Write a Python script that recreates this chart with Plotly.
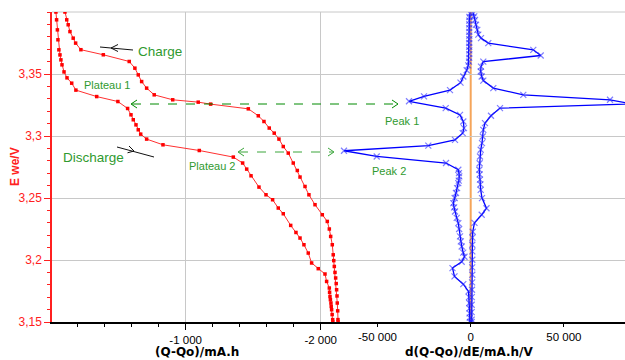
import plotly.graph_objects as go

# ---------------- data ----------------
# Red curves: E (V) vs (Q-Qo) (mA.h)
V_discharge = [3.400, 3.3937, 3.3856, 3.3776, 3.3695, 3.3654, 3.3614, 3.3574, 3.3517, 3.3469,
               3.3426, 3.3370, 3.3318, 3.3278, 3.3222, 3.3171, 3.3131, 3.3090, 3.3050, 3.3015,
               3.2975, 3.2929, 3.2883, 3.2830, 3.2782, 3.2733, 3.2679, 3.2588, 3.2526, 3.2486,
               3.2419, 3.2373, 3.2279, 3.2222, 3.2177, 3.2123, 3.2056, 3.1976, 3.1930, 3.1887,
               3.1827, 3.1774, 3.1740, 3.1706, 3.1680, 3.1653, 3.1626, 3.1599, 3.1560, 3.1519, 3.150]
Q_discharge = [-39, -44, -50, -54, -61, -69, -76, -84, -99, -121,
               -156, -187, -341, -498, -570, -595, -612, -632, -649, -667,
               -711, -832, -1101, -1353, -1422, -1452, -1484, -1543, -1595, -1644,
               -1686, -1723, -1778, -1817, -1847, -1876, -1908, -1933, -1982, -2032,
               -2044, -2064, -2066, -2069, -2072, -2076, -2078, -2081, -2085, -2089, -2090]

V_charge = [3.400, 3.3937, 3.3897, 3.3842, 3.3789, 3.3749, 3.3696, 3.3655, 3.3601, 3.3547,
            3.3493, 3.3439, 3.3386, 3.3332, 3.3292, 3.3273, 3.3257, 3.3219, 3.3163, 3.3117,
            3.3064, 3.3023, 3.2975, 3.2915, 3.2862, 3.2782, 3.2722, 3.2669, 3.2593, 3.2526,
            3.2446, 3.2365, 3.2311, 3.2250, 3.2190, 3.2123, 3.2042, 3.1995, 3.1948, 3.1900,
            3.1855, 3.1810, 3.1760, 3.1710, 3.1653, 3.1590, 3.1519, 3.150]
Q_charge = [-106, -119, -130, -143, -167, -185, -224, -390, -582, -624,
            -649, -674, -711, -767, -904, -1093, -1185, -1464, -1538, -1580,
            -1619, -1656, -1691, -1723, -1760, -1797, -1827, -1847, -1884, -1913,
            -1958, -2012, -2049, -2064, -2074, -2086, -2093, -2097, -2101, -2106,
            -2111, -2115, -2118, -2121, -2123, -2126, -2128, -2129]

# Blue curves: E (V) vs d(Q-Qo)/dE (mA.h/V)
V_dqde_charge = [3.3991, 3.3965, 3.3937, 3.3897, 3.3856, 3.3817, 3.3789, 3.3749, 3.3695, 3.3649,
                 3.3600, 3.3560, 3.3520, 3.3480, 3.3447, 3.3386, 3.3332, 3.3292, 3.3259, 3.3225,
                 3.3163, 3.3104, 3.3050, 3.2996, 3.2943, 3.2889, 3.2835, 3.278, 3.2728, 3.269,
                 3.2648, 3.261, 3.2566, 3.2499, 3.2417, 3.2365, 3.2300, 3.2228, 3.218, 3.2123,
                 3.207, 3.2002, 3.194, 3.1881, 3.182, 3.1760, 3.170, 3.1639, 3.158, 3.1519, 3.150]
dQ_charge = [1395, 1900, 2307, 2843, 3541, 4077, 5526, 9442, 33585, 37555,
             6760, 5526, 5365, 5902, 6760, 12125, 28220, 74735, 86000, 15720,
             10891, 7672, 6760, 6438, 6062, 5365, 4990, 4800, 4614, 4800,
             4990, 5200, 5365, 6062, 8477, 5902, 2039, 1073, 900, 858,
             858, 858, 800, 858, 750, 697, 600, 537, 537, 537, 537]

V_dqde_discharge = [3.399, 3.396, 3.393, 3.390, 3.387, 3.384, 3.381, 3.378, 3.375, 3.372,
                    3.369, 3.366, 3.363, 3.360, 3.357, 3.353, 3.348, 3.343, 3.337, 3.332,
                    3.328, 3.3225, 3.317, 3.3117, 3.3064, 3.3023, 3.2969, 3.2923, 3.2881, 3.2835,
                    3.2782, 3.2728, 3.270, 3.2674, 3.264, 3.262, 3.258, 3.254, 3.250, 3.2459,
                    3.2425, 3.2391, 3.234, 3.2298, 3.225, 3.219, 3.215, 3.2109, 3.206, 3.2026,
                    3.1986, 3.1935, 3.1868, 3.1805, 3.1747, 3.170, 3.1653, 3.161, 3.157, 3.1535, 3.150]
dQ_discharge = [-400, -700, -750, -750, -800, -800, -750, -750, -800, -800,
                -750, -750, -800, -900, -1288, -2146, -3970, -5472, -11106, -25055,
                -33100, -13413, -5741, -3970, -3595, -4292, -8423, -22748, -67975, -50431,
                -13252, -6653, -6300, -6116, -6400, -6653, -7300, -7887, -8600, -9335,
                -8900, -8423, -7500, -6653, -6200, -5741, -5300, -4829, -4000, -3326,
                -4829, -9764, -8692, -3970, -1180, -900, -751, -700, -600, -500, -400]

y_ticks = [3.15, 3.2, 3.25, 3.3, 3.35]
y_ticklabels = ["3,15", "3,2", "3,25", "3,3", "3,35"]
q_ticks = [-1000, -2000]
q_ticklabels = ["-1 000", "-2 000"]
dq_ticks = [-50000, 0, 50000]
dq_ticklabels = ["-50 000", "0", "50 000"]

# ---------------- layout helpers ----------------
W, H = 625, 360
ML, MR, MT, MB = 52, 0, 12, 38
PW, PH = W - ML - MR, H - MT - MB


def px(x):
    return (x - ML) / PW


def py(y):
    return (H - MB - y) / PH


fig = go.Figure()

fig.add_trace(go.Scatter(x=Q_discharge, y=V_discharge, mode="lines+markers", xaxis="x", yaxis="y",
                         line=dict(color="#ff3030", width=1),
                         marker=dict(symbol="square", size=3.5, color="#ff0000"), showlegend=False))
fig.add_trace(go.Scatter(x=Q_charge, y=V_charge, mode="lines+markers", xaxis="x", yaxis="y",
                         line=dict(color="#ff3030", width=1),
                         marker=dict(symbol="square", size=3.5, color="#ff0000"), showlegend=False))

blue_marker = dict(symbol="x-thin", size=6, color="rgba(40,40,255,0.6)",
                   line=dict(width=1.2, color="rgba(40,40,255,0.6)"))
fig.add_trace(go.Scatter(x=dQ_charge, y=V_dqde_charge, mode="lines+markers", xaxis="x2", yaxis="y",
                         line=dict(color="#0000ff", width=1.3), marker=blue_marker, showlegend=False))
fig.add_trace(go.Scatter(x=dQ_discharge, y=V_dqde_discharge, mode="lines+markers", xaxis="x2", yaxis="y",
                         line=dict(color="#0000ff", width=1.3), marker=blue_marker, showlegend=False))

tickfont = dict(family="Liberation Sans, Arial, sans-serif", size=11.5, color="black")

shapes = []
# top grid line (3.40)
shapes.append(dict(type="line", xref="paper", yref="paper", x0=0, x1=1, y0=1, y1=1,
                   line=dict(color="#c8c8c8", width=1), layer="below"))
# orange zero line of the derivative axis
shapes.append(dict(type="line", xref="x2", yref="paper", x0=0, x1=0, y0=0, y1=1,
                   line=dict(color="#f5a55a", width=2), layer="between"))


def seg(x0, y0, x1, y1, color, width=1, dash="solid"):
    return dict(type="line", xref="paper", yref="paper", x0=px(x0), y0=py(y0), x1=px(x1), y1=py(y1),
                line=dict(color=color, width=width, dash=dash), layer="above")


g1 = "#008a00"
g2 = "#3aa53a"
# Plateau 1 <-> Peak 1
shapes.append(seg(132, 104, 397, 104, g1, 1, "dash"))
shapes += [seg(137, 100, 131, 104, g1), seg(131, 104, 137, 108, g1),
           seg(392, 100, 398, 104, g1), seg(398, 104, 392, 108, g1)]
# Plateau 2 <-> Peak 2
shapes.append(seg(239, 152, 333, 152, g2, 1, "dash"))
shapes += [seg(244, 148, 238, 152, g2), seg(238, 152, 244, 156, g2),
           seg(328, 148, 334, 152, g2), seg(334, 152, 328, 156, g2)]
# Charge arrow (black)
shapes.append(seg(100, 47, 133, 50, "#111111", 1))
shapes += [seg(118, 44.5, 111, 48, "#111111"), seg(111, 48, 118, 51.5, "#111111")]
# Discharge arrow (black)
shapes.append(seg(117, 147, 154, 157, "#111111", 1))
shapes += [seg(127.5, 152.8, 134, 151, "#111111"), seg(134, 151, 129, 146, "#111111")]

green = "#2f9a2f"
annotations = []


def txt(text, x, y, size, color=green, family="Liberation Sans, Arial, sans-serif", angle=0):
    annotations.append(dict(text=text, xref="paper", yref="paper", x=px(x), y=py(y),
                            xanchor="center", yanchor="middle", showarrow=False, textangle=angle,
                            font=dict(family=family, size=size, color=color)))


txt("Charge", 160, 51, 13.5)
txt("Discharge", 93, 157, 13.5)
txt("Plateau 1", 107, 85, 11)
txt("Plateau 2", 212, 166, 11)
txt("Peak 1", 402, 121, 11)
txt("Peak 2", 389, 171, 11)
txt("<b>(Q-Qo)/mA.h</b>", 197, 352, 12, "black", "DejaVu Sans, sans-serif")
txt("<b>d(Q-Qo)/dE/mA.h/V</b>", 469, 352, 12, "black", "DejaVu Sans, sans-serif")
txt("<b>E we/V</b>", 15, 167, 12, "#ff2020", angle=-90)

fig.update_layout(
    width=W, height=H,
    margin=dict(l=ML, r=MR, t=MT, b=MB, pad=0),
    paper_bgcolor="white", plot_bgcolor="white",
    showlegend=False,
    xaxis=dict(range=[-10, -4254], tickmode="array", tickvals=q_ticks, ticktext=q_ticklabels,
               showgrid=True, gridcolor="#c8c8c8", gridwidth=1, zeroline=False,
               showline=True, linecolor="black", linewidth=1.5,
               ticks="outside", ticklen=6, tickcolor="black", tickfont=tickfont,
               minor=dict(tickmode="array",
                          tickvals=[-200, -400, -600, -800, -1200, -1400, -1600, -1800],
                          ticks="outside", ticklen=3, tickcolor="black", showgrid=False),
               anchor="y"),
    xaxis2=dict(range=[-224634, 82782], overlaying="x", side="bottom", anchor="y",
                tickmode="array", tickvals=dq_ticks, ticktext=dq_ticklabels,
                showgrid=False, zeroline=False, showline=False,
                ticks="outside", ticklen=4, tickcolor="black", tickfont=tickfont),
    yaxis=dict(range=[3.15, 3.40], tickmode="array", tickvals=y_ticks, ticktext=y_ticklabels,
               showgrid=True, gridcolor="#c8c8c8", gridwidth=1, zeroline=False,
               showline=True, linecolor="#ff2020", linewidth=1.5,
               ticks="outside", ticklen=6, tickcolor="#ff2020",
               tickfont=dict(family="Liberation Sans, Arial, sans-serif", size=12, color="#ff2020"),
               minor=dict(dtick=0.01, tick0=3.15, ticks="outside", ticklen=3,
                          tickcolor="#ff2020", showgrid=False)),
    shapes=shapes,
    annotations=annotations,
)

fig.write_html("out.html", config={"displayModeBar": False},
               post_script="document.body.style.margin='0';document.body.style.overflow='hidden';")
